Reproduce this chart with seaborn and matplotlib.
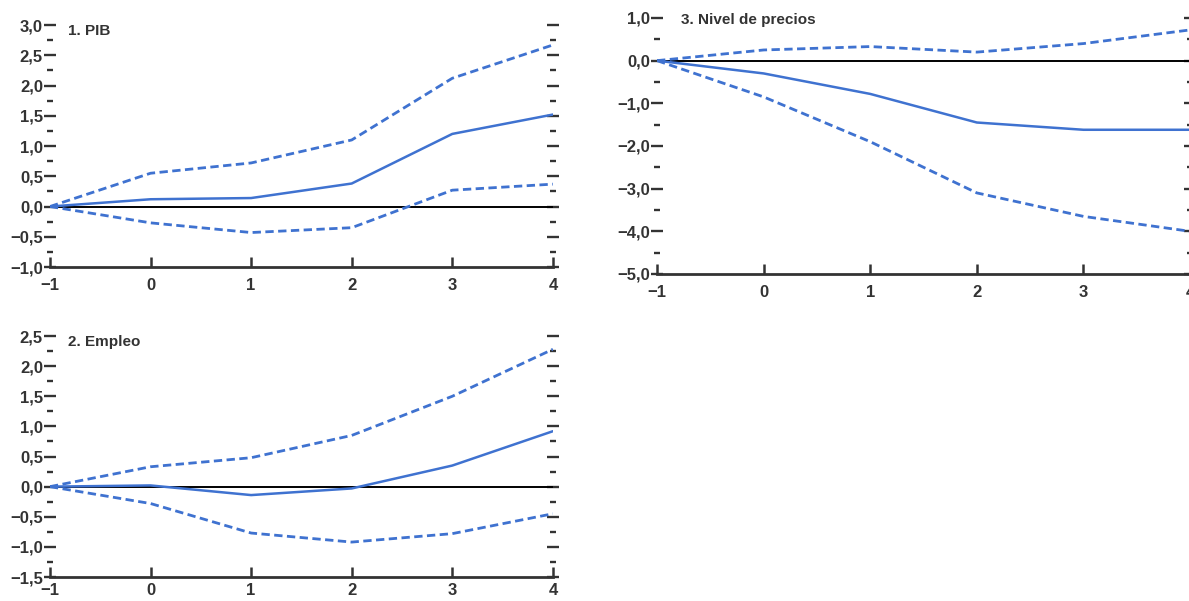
import numpy as np
import pandas as pd
import seaborn as sns
import matplotlib.pyplot as plt
from matplotlib.ticker import MultipleLocator, FuncFormatter

# horizon (years after the shock)
periods = [-1, 0, 1, 2, 3, 4]

# 1. PIB
pib_central = [0.0, 0.12, 0.14, 0.38, 1.20, 1.52]
pib_upper = [0.0, 0.55, 0.72, 1.10, 2.12, 2.67]
pib_lower = [0.0, -0.27, -0.43, -0.35, 0.27, 0.37]

# 2. Empleo
emp_central = [0.0, 0.02, -0.14, -0.03, 0.35, 0.92]
emp_upper = [0.0, 0.33, 0.48, 0.85, 1.50, 2.28]
emp_lower = [0.0, -0.28, -0.77, -0.92, -0.78, -0.45]

# 3. Nivel de precios
pre_central = [0.0, -0.30, -0.78, -1.45, -1.62, -1.62]
pre_upper = [0.0, 0.25, 0.33, 0.20, 0.40, 0.72]
pre_lower = [0.0, -0.85, -1.90, -3.10, -3.65, -4.00]

titles = ["1. PIB", "2. Empleo", "3. Nivel de precios"]

sns.set_theme(style="white")
plt.rcParams['font.family'] = ['Liberation Sans', 'DejaVu Sans']

BLUE = '#3f72d0'
TXT = '#333333'


def comma_fmt(decimals):
    def f(v, pos):
        s = f"{v:.{decimals}f}".replace('.', ',')
        if v < -1e-9:
            s = '\u2212' + s.lstrip('-')
        elif s.startswith('-'):
            s = s.lstrip('-')
        return s
    return FuncFormatter(f)


def panel(ax, central, upper, lower, title, ylim, major, minor, xpad=8):
    ax.axhline(0, color='black', lw=1.4, zorder=1)
    sns.lineplot(x=periods, y=upper, ax=ax, color=BLUE, lw=2.0)
    sns.lineplot(x=periods, y=lower, ax=ax, color=BLUE, lw=2.0)
    sns.lineplot(x=periods, y=central, ax=ax, color=BLUE, lw=1.8)
    # confidence bands dashed
    for l in ax.lines[1:3]:
        l.set_linestyle((0, (3, 1.6)))
    ax.set_xlim(-1, 4)
    ax.set_ylim(*ylim)
    ax.yaxis.set_major_locator(MultipleLocator(major))
    ax.yaxis.set_minor_locator(MultipleLocator(minor))
    ax.yaxis.set_major_formatter(comma_fmt(1))
    ax.xaxis.set_major_locator(MultipleLocator(1))
    ax.xaxis.set_major_formatter(comma_fmt(0))
    for s in ['left', 'right', 'top']:
        ax.spines[s].set_visible(False)
    ax.spines['bottom'].set_color('#333333')
    ax.spines['bottom'].set_linewidth(2.0)
    ax.tick_params(axis='y', which='major', direction='inout', length=8, width=1.7,
                   left=True, right=True, color='#333333', labelsize=12, labelcolor=TXT, pad=1)
    ax.tick_params(axis='y', which='minor', direction='inout', length=4, width=1.7,
                   left=True, right=True, color='#333333')
    ax.tick_params(axis='x', which='major', direction='in', length=7, width=1.8,
                   bottom=True, color='#333333', labelsize=12, labelcolor=TXT, pad=xpad)
    for lab in ax.get_xticklabels() + ax.get_yticklabels():
        lab.set_fontweight('bold')
    ax.text(0.035, 1.005, title, transform=ax.transAxes, ha='left', va='top',
            fontsize=11, fontweight='bold', color=TXT)
    ax.set_xlabel('')
    ax.set_ylabel('')
    ax.patch.set_alpha(0)


fig = plt.figure(figsize=(11.89, 6.01), dpi=100)
ax1 = fig.add_axes([0.042, 0.5557, 0.423, 0.4027])
ax2 = fig.add_axes([0.042, 0.0399, 0.423, 0.401])
ax3 = fig.add_axes([0.5526, 0.5441, 0.4483, 0.426])

panel(ax1, pib_central, pib_upper, pib_lower, titles[0], (-1.0, 3.0), 0.5, 0.25)
panel(ax2, emp_central, emp_upper, emp_lower, titles[1], (-1.5, 2.5), 0.5, 0.25, xpad=4)
panel(ax3, pre_central, pre_upper, pre_lower, titles[2], (-5.0, 1.0), 1.0, 0.5)
ax3.texts[0].set_x(0.045)
ax3.texts[0].set_y(1.02)

fig.savefig('out.png', dpi=100)
